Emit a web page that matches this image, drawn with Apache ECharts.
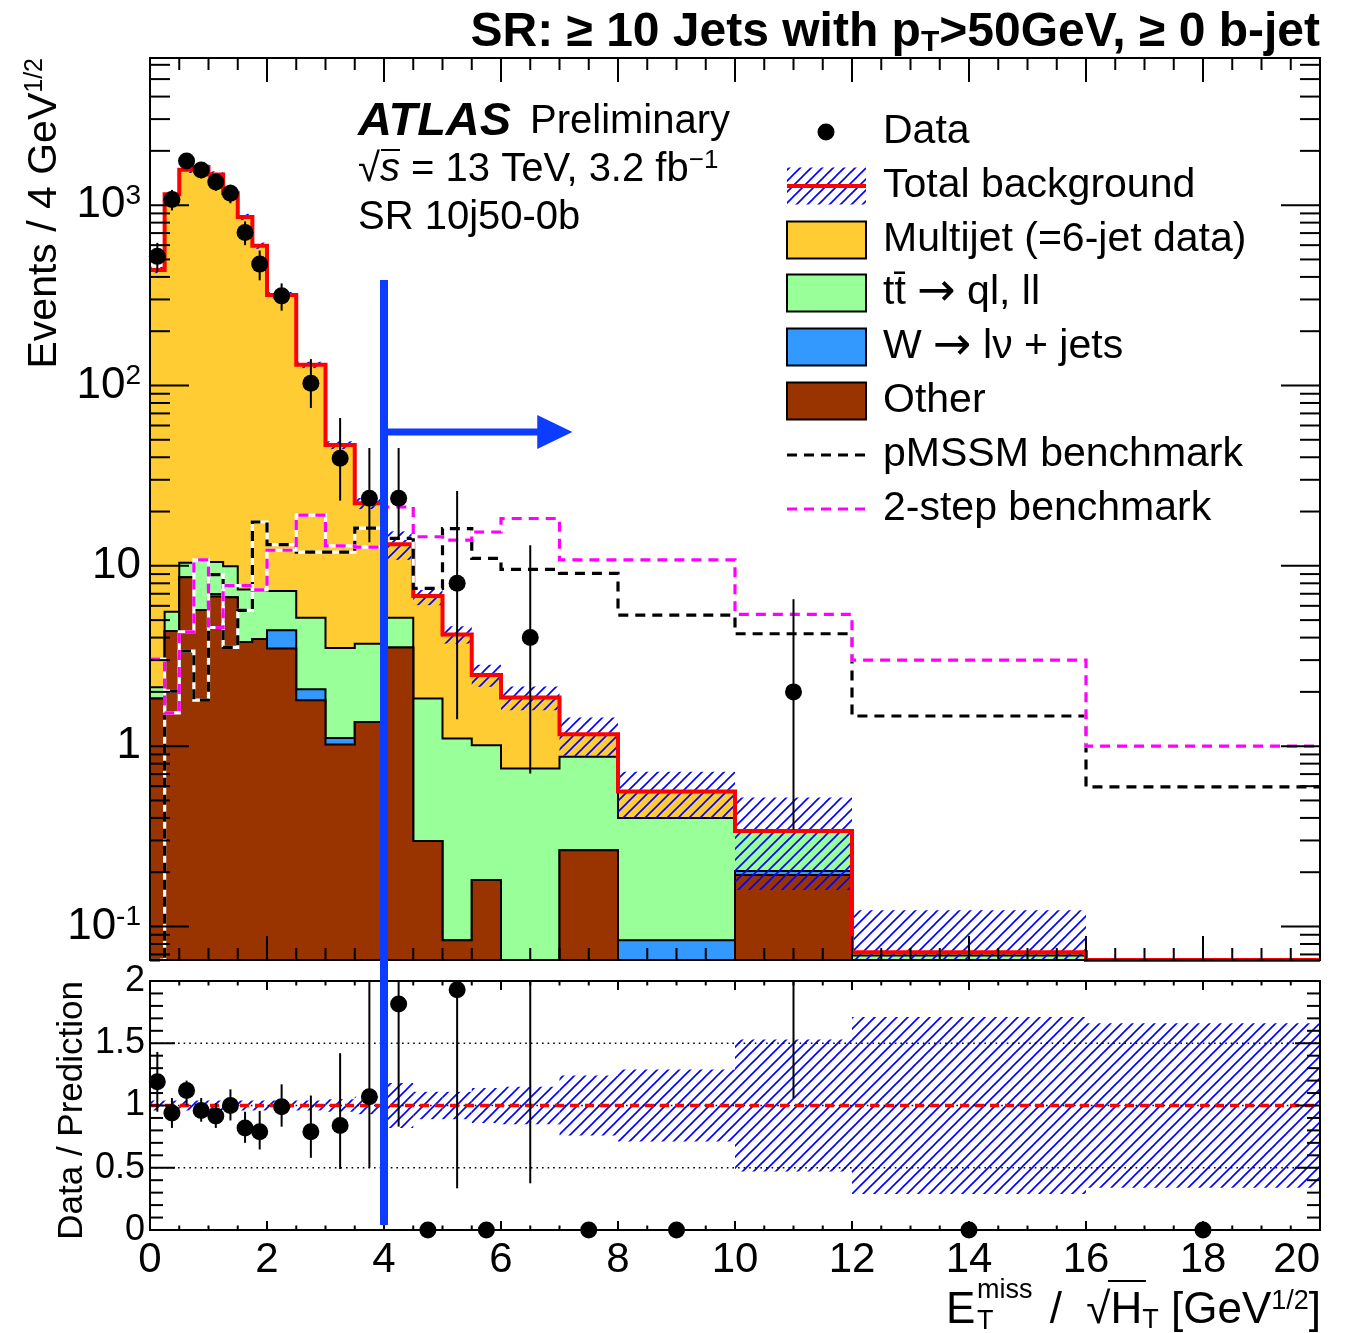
<!DOCTYPE html>
<html><head><meta charset="utf-8">
<script src="https://cdn.jsdelivr.net/npm/echarts@6/dist/echarts.min.js"></script>
<style>html,body{margin:0;padding:0;background:#fff}#c{width:1347px;height:1333px}</style>
</head><body><div id="c"></div>
<script>
// ---------------- DATA ----------------
const binEdges = [0,0.25,0.5,0.75,1,1.25,1.5,1.75,2,2.5,3,3.5,4,4.5,5,5.5,6,7,8,10,12,16,20];
const multijet = [434.9,1144,1560,1619,1470,1155,853,589,310,125,43.2,18.5,8.0,4.96,3.06,1.47,1.11,0.29,0.16,0,0.003,0];
const ttbar    = [0.28,1.21,1.76,5.11,3.52,3.24,3.62,3.37,2.86,3.09,2.39,2.34,1.63,1.54,1.02,0.83,0.752,0.608,0.316,0.136,0.069,0];
const wjets    = [0,0,0,0,0.22,0,0,0,0.91,0.27,0.09,0,0,0,0,0,0,0,0.084,0.01,0,0];
const other    = [1.84,4.35,8.64,5.69,6.76,6.70,3.78,3.93,3.48,1.80,1.02,1.36,3.53,0.298,0.084,0.181,0,0.265,0,0.193,0,0];
const bkgRelErr= [0.04,0.04,0.04,0.04,0.04,0.04,0.04,0.04,0.04,0.04,0.05,0.07,0.18,0.11,0.11,0.14,0.15,0.24,0.29,0.53,0.71,0.66];
const dataVal  = [520,1075,1758,1568,1345,1163,706,471,314,103,39.5,23.7,23.7,0,8.0,0,4.0,0,0,2.0,0,0];
const dataLo   = [427,935,1600,1410,1200,1025,600,383,260,75,23,13.5,13.9,0,1.41,0,0.705,0,0,0.345,0,0];
const dataHi   = [618,1215,1916,1725,1490,1300,812,560,368,140,66,45,45,0,26,0,13.0,0,0,6.53,0,0];
const ratioVal = [1.19,0.94,1.12,0.96,0.915,1.0,0.82,0.79,0.99,0.79,0.84,1.07,1.815,0,1.93,0,2.14,0,0,5.9,0,0];
const ratioLo  = [0.95,0.82,1.0,0.87,0.82,0.88,0.70,0.647,0.83,0.58,0.49,0.50,0.83,0,0.335,0,0.375,0,0,1.058,0,0];
const ratioHi  = [1.43,1.06,1.20,1.06,1.02,1.13,0.95,0.957,1.17,1.08,1.42,2.6,3.4,0,5.2,0,7.0,0,0,19.3,0,0];
const pMSSM    = [0,2.02,3.37,1.80,8.93,3.53,5.66,17.5,13.1,11.9,11.9,16.2,14.2,7.5,16.1,11.0,9.55,9.07,5.33,4.2,1.47,0.594];
const twoStep  = [3.04,1.53,4.31,10.8,4.55,7.77,7.77,7.35,12.2,19.1,12.9,12.7,21.2,14.5,13.9,15.4,18.3,10.8,10.8,5.38,3.0,1.0];
const xTickLabels = [0,2,4,6,8,10,12,14,16,18,20];
const ratioTickLabels = [0,0.5,1,1.5,2];

// ---------------- SETUP ----------------
const FONT = '"Liberation Sans", Arial, Helvetica, sans-serif';
const AFONT = '"DejaVu Sans", "Liberation Sans", sans-serif';
const YMIN = 0.0652, YMAX = 6546, RMIN = 0, RMAX = 2;
const C_MJ = '#ffcc33', C_TT = '#99ff99', C_W = '#3399ff', C_OT = '#993300', C_BLUE = '#0b3cff';
const N = binEdges.length - 1;
const cumOther = other.slice();
const cumW = other.map((v,i)=>v+wjets[i]);
const cumTT = cumW.map((v,i)=>v+ttbar[i]);
const totalBkg = cumTT.map((v,i)=>v+multijet[i]);

function makeHatch(){
  const P = 11, c = document.createElement('canvas'); c.width = P; c.height = P;
  const g = c.getContext('2d'); g.strokeStyle = '#0000ff'; g.lineWidth = 1.6;
  g.beginPath(); g.moveTo(-2,P+2); g.lineTo(P+2,-2); g.moveTo(-2,2); g.lineTo(2,-2); g.moveTo(P-2,P+2); g.lineTo(P+2,P-2); g.stroke();
  return c;
}
const hatchImg = makeHatch();
const hatch = () => ({image: hatchImg, repeat: 'repeat'});

function clamp(v, lo, hi){ if (!(v > lo)) return lo; return v > hi ? hi : v; }
function steps(api, vals, lo, hi, closed){
  const pts = [];
  if (closed) pts.push(api.coord([binEdges[0], lo]));
  for (let i=0;i<N;i++){ const v = clamp(vals[i], lo, hi); pts.push(api.coord([binEdges[i], v])); pts.push(api.coord([binEdges[i+1], v])); }
  if (closed) pts.push(api.coord([binEdges[N], lo]));
  return pts;
}
function ln(x1,y1,x2,y2,st){ return {type:'line', shape:{x1,y1,x2,y2}, style:Object.assign({stroke:'#000', lineWidth:2}, st||{})}; }
function frameTicks(api, yLo, yHi, yTicks, xMaj, xMin, yMaj, yMin){
  const tl = api.coord([0, yHi]), br = api.coord([20, yLo]);
  const L = tl[0], T = tl[1], R = br[0], B = br[1];
  const ch = [];
  for (let k=1;k<40;k++){ const px = api.coord([k*0.5, yLo])[0]; const len = (k%4===0)?xMaj:xMin; ch.push(ln(px,B,px,B-len)); ch.push(ln(px,T,px,T+len)); }
  yTicks.forEach(t=>{ const py = api.coord([0, t.v])[1]; const len = t.major?yMaj:yMin; ch.push(ln(L,py,L+len,py)); ch.push(ln(R,py,R-len,py)); });
  ch.push({type:'rect', shape:{x:L,y:T,width:R-L,height:B-T}, style:{fill:null, stroke:'#000', lineWidth:2}});
  return ch;
}
const mainYTicks = [];
for (let d=-2; d<=4; d++) for (let m=1;m<=9;m++){ const v = m*Math.pow(10,d); if (v>YMIN*1.001 && v<YMAX*0.999) mainYTicks.push({v, major:m===1}); }
const ratioYTicks = [];
for (let k=1;k<20;k++) ratioYTicks.push({v:k/10, major:k%5===0});

function renderMain(params, api){
  const ch = [];
  const layers = [[totalBkg,C_MJ],[cumTT,C_TT],[cumW,C_W],[cumOther,C_OT]];
  layers.forEach(([vals,col])=>{
    const pts = steps(api, vals, YMIN, YMAX, true);
    ch.push({type:'polygon', shape:{points:pts}, style:{fill:col, stroke:null}});
    ch.push({type:'polyline', shape:{points:pts}, style:{stroke:'#000', lineWidth:2, fill:null}});
  });
  for (let i=0;i<N;i++){
    if (!(totalBkg[i]>0)) continue;
    const y1 = clamp(totalBkg[i]*(1+bkgRelErr[i]), YMIN, YMAX), y0 = clamp(totalBkg[i]*(1-bkgRelErr[i]), YMIN, YMAX);
    const p0 = api.coord([binEdges[i], y0]), p1 = api.coord([binEdges[i+1], y1]);
    ch.push({type:'rect', shape:{x:p0[0], y:p1[1], width:p1[0]-p0[0], height:p0[1]-p1[1]}, style:{fill:hatch(), stroke:null}});
  }
  ch.push({type:'polyline', shape:{points:steps(api,totalBkg,YMIN,YMAX,false)}, style:{stroke:'#ff0000', lineWidth:4, fill:null}});
  [[pMSSM,'#000000'],[twoStep,'#ff00ff']].forEach(([vals,col])=>{
    const pts = steps(api, vals, YMIN, YMAX, false);
    ch.push({type:'polyline', shape:{points:pts}, style:{stroke:'#ffffff', lineWidth:3.2, fill:null}});
    ch.push({type:'polyline', shape:{points:pts}, style:{stroke:col, lineWidth:3.2, fill:null, lineDash:[10,7]}});
  });
  for (let i=0;i<N;i++){
    if (!(dataVal[i]>0)) continue;
    const cx = (binEdges[i]+binEdges[i+1])/2;
    const a = api.coord([cx, clamp(dataLo[i],YMIN,YMAX)]), b = api.coord([cx, clamp(dataHi[i],YMIN,YMAX)]), c = api.coord([cx, dataVal[i]]);
    ch.push(ln(a[0],a[1],b[0],b[1],{lineWidth:2}));
    ch.push({type:'circle', shape:{cx:c[0], cy:c[1], r:8.5}, style:{fill:'#000', stroke:null}});
  }
  return {type:'group', children: ch.concat(frameTicks(api, YMIN, YMAX, mainYTicks, 24, 12, 39, 20))};
}

function renderRatio(params, api){
  const ch = [];
  for (let i=0;i<N;i++){
    const p0 = api.coord([binEdges[i], clamp(1-bkgRelErr[i],RMIN,RMAX)]), p1 = api.coord([binEdges[i+1], clamp(1+bkgRelErr[i],RMIN,RMAX)]);
    ch.push({type:'rect', shape:{x:p0[0], y:p1[1], width:p1[0]-p0[0], height:p0[1]-p1[1]}, style:{fill:hatch(), stroke:null}});
  }
  [0.5,1,1.5].forEach(v=>{ const a = api.coord([0,v]), b = api.coord([20,v]); ch.push(ln(a[0],a[1],b[0],b[1],{lineWidth:1.6, lineDash:[1.6,4]})); });
  { const a = api.coord([0,1]), b = api.coord([20,1]); ch.push(ln(a[0],a[1],b[0],b[1],{stroke:'#ff0000', lineWidth:3.5, lineDash:[9,6]})); }
  for (let i=0;i<N;i++){
    const cx = (binEdges[i]+binEdges[i+1])/2;
    if (ratioVal[i] > 0){
      const a = api.coord([cx, clamp(ratioLo[i],RMIN,RMAX)]), b = api.coord([cx, clamp(ratioHi[i],RMIN,RMAX)]);
      ch.push(ln(a[0],a[1],b[0],b[1],{lineWidth:2}));
    }
    if (ratioVal[i] <= RMAX){
      const c = api.coord([cx, ratioVal[i]]);
      ch.push({type:'circle', shape:{cx:c[0], cy:c[1], r:8.5}, style:{fill:'#000', stroke:null}});
    }
  }
  return {type:'group', children: ch.concat(frameTicks(api, RMIN, RMAX, ratioYTicks, 9, 4.5, 25, 13))};
}

function fmtLog(v){
  const e = Math.round(Math.log10(v));
  if (Math.abs(Math.log10(v) - e) > 1e-4) return '';
  if (e === 0) return '{b|1}';
  if (e === 1) return '{b|10}';
  return '{b|10}{s|' + e + '}';
}

const chart = echarts.init(document.getElementById('c'), null, {renderer:'canvas', width:1347, height:1333});
const noAx = {axisLine:{show:false}, axisTick:{show:false}, splitLine:{show:false}, minorTick:{show:false}, minorSplitLine:{show:false}};
chart.setOption({
  animation:false,
  backgroundColor:'#ffffff',
  grid:[
    {left:150, top:58, width:1170, height:902, show:false, containLabel:false, outerBoundsMode:'none'},
    {left:150, top:981, width:1170, height:249, show:false, containLabel:false, outerBoundsMode:'none'}
  ],
  xAxis:[
    Object.assign({type:'value', gridIndex:0, min:0, max:20, interval:2, axisLabel:{show:false}}, noAx),
    Object.assign({type:'value', gridIndex:1, min:0, max:20, interval:2,
      axisLabel:{show:true, margin:9, fontSize:42, fontFamily:FONT, color:'#000', alignMaxLabel:'right',
        formatter: v => (xTickLabels.indexOf(v) >= 0 ? String(v) : '')}}, noAx)
  ],
  yAxis:[
    Object.assign({type:'log', logBase:10, gridIndex:0, min:YMIN, max:YMAX,
      axisLabel:{show:true, margin:9, formatter:fmtLog, color:'#000',
        rich:{b:{fontSize:44, fontFamily:FONT, color:'#000', lineHeight:46}, s:{fontSize:28, fontFamily:FONT, color:'#000', verticalAlign:'top', lineHeight:20}}}}, noAx),
    Object.assign({type:'value', gridIndex:1, min:RMIN, max:RMAX, interval:0.5,
      axisLabel:{show:true, margin:5, fontSize:36, fontFamily:FONT, color:'#000',
        formatter: v => (ratioTickLabels.indexOf(v) >= 0 ? String(v) : '')}}, noAx)
  ],
  series:[
    {type:'custom', name:'main', xAxisIndex:0, yAxisIndex:0, data:[[0,1]], renderItem:renderMain, silent:true, z:2},
    {type:'custom', name:'ratio', xAxisIndex:1, yAxisIndex:1, data:[[0,1]], renderItem:renderRatio, silent:true, z:2}
  ]
});

// ---------------- ANNOTATIONS & TEXT ----------------
const pTop = chart.convertToPixel({gridIndex:0}, [4, 385]);
const pBot = chart.convertToPixel({gridIndex:1}, [4, 0.04]);
const pA0 = chart.convertToPixel({gridIndex:0}, [4, 55.2]);
const pA1 = chart.convertToPixel({gridIndex:0}, [6.62, 55.2]);
const pA2 = chart.convertToPixel({gridIndex:0}, [7.22, 55.2]);

function T(x, y, text, opt){ return {type:'text', x, y, z:50, silent:true, style:Object.assign({text, fontFamily:FONT, fontSize:42, fill:'#000', align:'left', verticalAlign:'middle'}, opt||{})}; }
const g = [];
// blue cut line + arrow
g.push({type:'line', z:60, silent:true, shape:{x1:pTop[0], y1:pTop[1], x2:pBot[0], y2:pBot[1]}, style:{stroke:C_BLUE, lineWidth:8}});
g.push({type:'line', z:60, silent:true, shape:{x1:pA0[0], y1:pA0[1], x2:pA1[0]+2, y2:pA1[1]}, style:{stroke:C_BLUE, lineWidth:7}});
g.push({type:'polygon', z:60, silent:true, shape:{points:[[pA1[0],pA1[1]-17],[pA2[0],pA2[1]],[pA1[0],pA1[1]+17]]}, style:{fill:C_BLUE}});
// title
g.push(T(1320, 33, '{a|SR: ≥ 10 Jets with p}{s|T}{a|>50GeV, ≥ 0 b-jet}', {align:'right',
  rich:{a:{fontSize:48, fontWeight:'bold', fontFamily:FONT, lineHeight:50}, s:{fontSize:30, fontWeight:'bold', fontFamily:FONT, verticalAlign:'bottom', lineHeight:30}}}));
// ATLAS label
g.push(T(358, 122, 'ATLAS', {fontSize:47, fontWeight:'bold', fontStyle:'italic'}));
g.push(T(530, 122, 'Preliminary', {fontSize:40}));
g.push(T(358, 170, '{n|√}{i|s}{n| = 13 TeV, 3.2 fb}{p|−1}', {
  rich:{n:{fontSize:40, fontFamily:FONT, lineHeight:44}, i:{fontSize:40, fontFamily:FONT, fontStyle:'italic', lineHeight:44}, p:{fontSize:26, fontFamily:FONT, verticalAlign:'top', lineHeight:18}}}));
g.push({type:'line', z:50, silent:true, shape:{x1:381, y1:150, x2:400, y2:150}, style:{stroke:'#000', lineWidth:2}});
g.push(T(358, 218, 'SR 10j50-0b', {fontSize:40}));
// legend
const LX = 787, LW = 79, LH = 37, TX = 883;
const rows = [132,186,240,293,347,401,455,509];
g.push({type:'circle', z:50, silent:true, shape:{cx:826, cy:rows[0], r:8.5}, style:{fill:'#000'}});
g.push({type:'rect', z:50, silent:true, shape:{x:LX, y:rows[1]-LH/2, width:LW, height:LH}, style:{fill:hatch(), stroke:null}});
g.push({type:'line', z:51, silent:true, shape:{x1:LX, y1:rows[1], x2:LX+LW, y2:rows[1]}, style:{stroke:'#ff0000', lineWidth:4}});
[[2,C_MJ],[3,C_TT],[4,C_W],[5,C_OT]].forEach(([r,col])=>{
  g.push({type:'rect', z:50, silent:true, shape:{x:LX, y:rows[r]-LH/2, width:LW, height:LH}, style:{fill:col, stroke:'#000', lineWidth:2}});
});
g.push({type:'line', z:50, silent:true, shape:{x1:LX, y1:rows[6], x2:LX+LW, y2:rows[6]}, style:{stroke:'#000', lineWidth:3.2, lineDash:[10,7]}});
g.push({type:'line', z:50, silent:true, shape:{x1:LX, y1:rows[7], x2:LX+LW, y2:rows[7]}, style:{stroke:'#ff00ff', lineWidth:3.2, lineDash:[10,7]}});
const legRich = {n:{fontSize:41, fontFamily:FONT, lineHeight:46}, a:{fontSize:46, fontFamily:AFONT, lineHeight:46}};
const legTexts = ['{n|Data}','{n|Total background}','{n|Multijet (=6-jet data)}','{n|tt\u0304 }{a|\u2192}{n| ql, ll}','{n|W }{a|\u2192}{n| l\u03bd + jets}','{n|Other}','{n|pMSSM benchmark}','{n|2-step benchmark}'];
legTexts.forEach((t,i)=>g.push(T(TX, rows[i], t, {rich:legRich})));
// axis titles
g.push({type:'text', z:50, silent:true, x:45, y:58, rotation:Math.PI/2, style:{text:'{n|Events / 4 GeV}{p|1/2}', align:'right', verticalAlign:'middle', fill:'#000',
  rich:{n:{fontSize:41, fontFamily:FONT, lineHeight:44}, p:{fontSize:25, fontFamily:FONT, verticalAlign:'top', lineHeight:18}}}});
g.push({type:'text', z:50, silent:true, x:72, y:981, rotation:Math.PI/2, style:{text:'Data / Prediction', fontSize:35, fontFamily:FONT, align:'right', verticalAlign:'middle', fill:'#000'}});
// x title
g.push(T(946, 1311, 'E', {fontSize:44}));
g.push(T(977, 1291, 'miss', {fontSize:27}));
g.push(T(977, 1322, 'T', {fontSize:27}));
g.push(T(1321, 1311, '{n|/  √}{n|H}{s|T}{n| [GeV}{p|1/2}{n|]}', {align:'right',
  rich:{n:{fontSize:44, fontFamily:FONT, lineHeight:46}, s:{fontSize:27, fontFamily:FONT, verticalAlign:'bottom', lineHeight:26}, p:{fontSize:27, fontFamily:FONT, verticalAlign:'top', lineHeight:20}}}));
g.push({type:'line', z:50, silent:true, shape:{x1:1108, y1:1281, x2:1146, y2:1281}, style:{stroke:'#000', lineWidth:2}});

chart.setOption({graphic: g});
</script>
</body></html>
